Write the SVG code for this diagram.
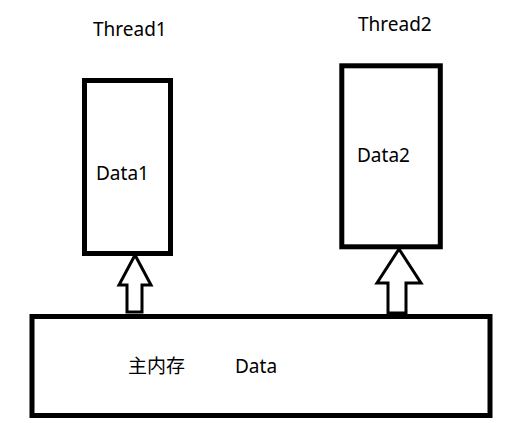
<svg xmlns="http://www.w3.org/2000/svg" width="513" height="423" viewBox="0 0 513 423">
<style>
.box{fill:#fff;stroke:#000;stroke-width:5}
.arr{fill:#fff;stroke:#000;stroke-width:3;stroke-linejoin:miter}
text{font-family:"Noto Sans","Noto Sans CJK SC",sans-serif;font-size:19px;fill:#000}
</style>
<rect width="513" height="423" fill="#fff"/>
<g id="thread1">
<text x="93" y="36">Thread1</text>
<rect class="box" x="84.5" y="80.5" width="86" height="173"/>
<text x="96" y="180">Data1</text>
</g>
<g id="thread2">
<text x="358" y="31">Thread2</text>
<rect class="box" x="341.8" y="65.8" width="98.5" height="181"/>
<text x="357" y="162">Data2</text>
</g>
<g id="main">
<rect class="box" x="32" y="316.5" width="458" height="99"/>
<text x="128" y="373" font-family="'Noto Sans CJK SC',sans-serif">主内存</text>
<text x="235" y="373">Data</text>
</g>
<g id="connectors">
<polygon class="arr" points="135,255 151,285 142,285 142,312 127,312 127,285 119,285"/>
<polygon class="arr" points="399,249 421,283 406,283 406,313 388,313 388,283 377,283"/>
</g>
</svg>
